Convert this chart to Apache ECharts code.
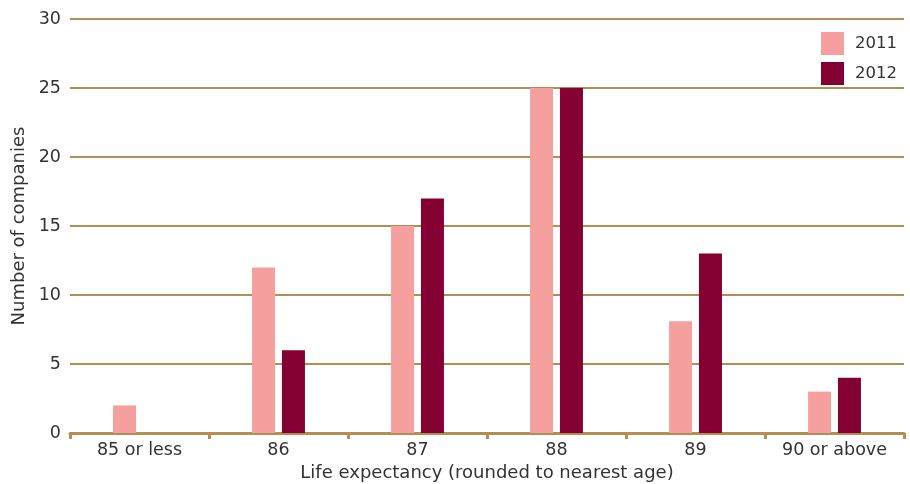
<!DOCTYPE html>
<html>
<head>
<meta charset="utf-8">
<script src="https://cdn.jsdelivr.net/npm/echarts@6/dist/echarts.min.js"></script>
<style>
  html, body { margin: 0; padding: 0; background: #fff; }
  #chart { width: 910px; height: 484px; }
</style>
</head>
<body>
<div id="chart"></div>
<script>
const categories = ['85 or less', '86', '87', '88', '89', '90 or above'];
const values2011 = [2, 12, 15, 25, 8.1, 3];
const values2012 = [0, 6, 17, 25, 13, 4];
const yTicks = [0, 5, 10, 15, 20, 25, 30];

const gold = '#b58e52';
const font = '"DejaVu Sans", sans-serif';

const chart = echarts.init(document.getElementById('chart'));
chart.setOption({
    animation: false,
    textStyle: { fontFamily: font },
    grid: { left: 70, right: 6, top: 19, bottom: 51, outerBoundsMode: 'none', containLabel: false },
    legend: {
        right: 8,
        top: 27,
        orient: 'vertical',
        itemWidth: 23,
        itemHeight: 23,
        itemGap: 7,
        icon: 'rect',
        textStyle: { fontSize: 16.5, color: '#333', fontFamily: font, padding: [0, 0, 0, 6] },
        data: ['2011', '2012']
    },
    xAxis: {
        type: 'category',
        data: categories,
        name: 'Life expectancy (rounded to nearest age)',
        nameLocation: 'middle',
        nameGap: 29,
        nameTextStyle: { fontSize: 18, color: '#333' },
        axisLine: { lineStyle: { color: gold, width: 3 } },
        axisTick: { show: true, length: 6, lineStyle: { color: gold, width: 3 } },
        axisLabel: { fontSize: 17.5, color: '#333', margin: 8, interval: 0 }
    },
    yAxis: {
        type: 'value',
        min: yTicks[0],
        max: yTicks[yTicks.length - 1],
        interval: 5,
        name: 'Number of companies',
        nameLocation: 'middle',
        nameGap: 40,
        nameTextStyle: { fontSize: 18, color: '#333' },
        axisLine: { show: false },
        axisTick: { show: false },
        axisLabel: { fontSize: 17.5, color: '#333', margin: 9 },
        splitLine: { lineStyle: { color: gold, width: 2 } }
    },
    series: [
        {
            name: '2011',
            type: 'bar',
            data: values2011,
            barWidth: 23,
            barGap: '30%',
            itemStyle: { color: '#f5a09f' }
        },
        {
            name: '2012',
            type: 'bar',
            data: values2012,
            barWidth: 23,
            itemStyle: { color: '#850032' }
        }
    ]
});
</script>
</body>
</html>
